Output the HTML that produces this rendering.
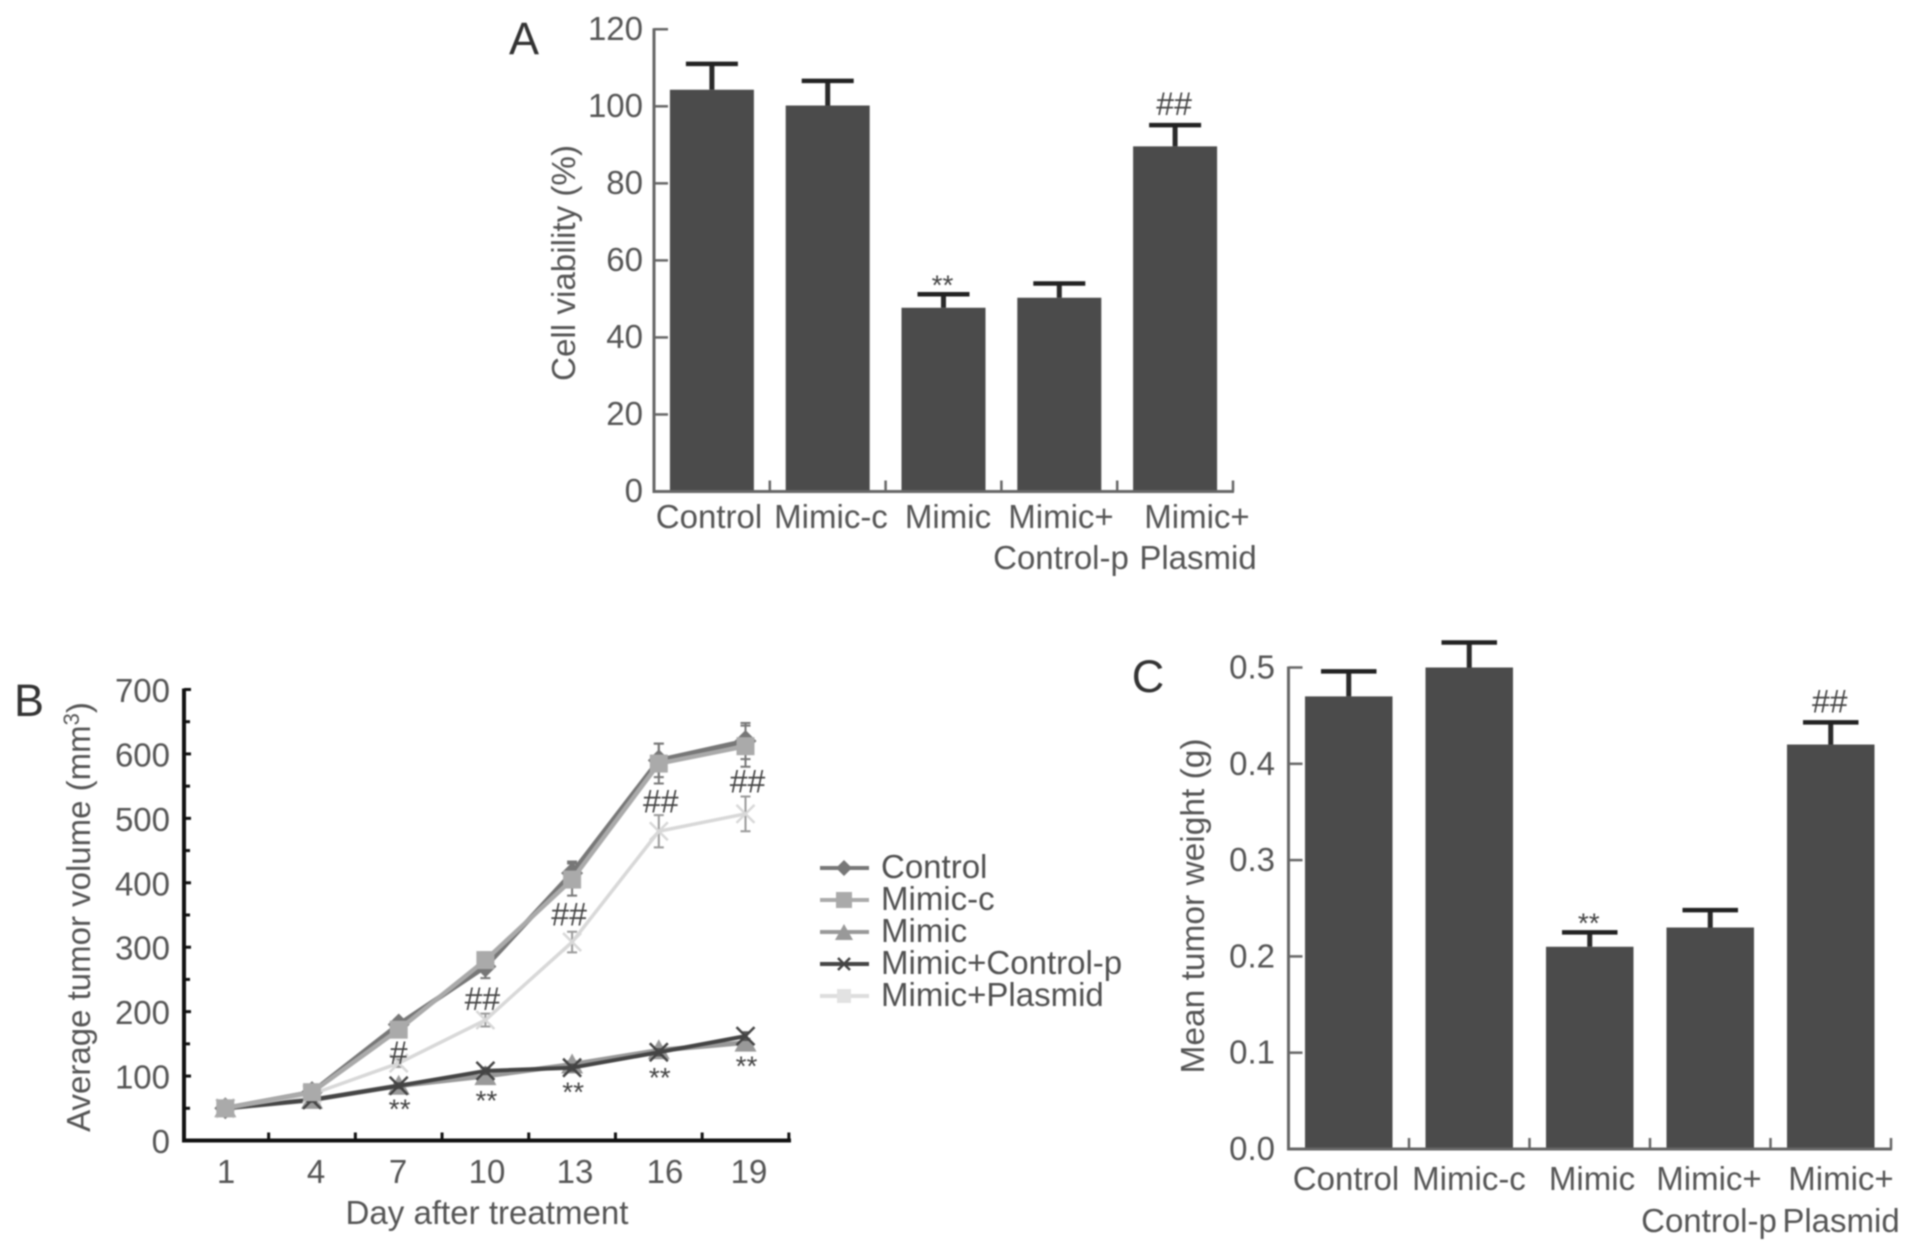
<!DOCTYPE html>
<html lang="en">
<head>
<meta charset="utf-8">
<title>Cell viability and tumor growth charts</title>
<style>
html,body{margin:0;padding:0;background:#fff;}
svg{display:block;filter:blur(0.8px);}
text{font-family:"Liberation Sans",sans-serif;fill:#555;}
.lbl{font-size:33px;text-anchor:middle;}
.leg{font-size:33px;fill:#505050;}
.ttl{font-size:33px;text-anchor:middle;}
.pl{font-size:45px;fill:#333;text-anchor:middle;}
</style>
</head>
<body>
<svg id="fig" xmlns="http://www.w3.org/2000/svg" width="1913" height="1250" viewBox="0 0 1913 1250">
  <rect width="1913" height="1250" fill="#fff"/>
  <g id="panelA">
    <text class="pl" x="524" y="54">A</text>
    <text class="ttl" transform="translate(575,263) rotate(-90)" textLength="236" lengthAdjust="spacingAndGlyphs">Cell viability (%)</text>
    <g>
      <text class="lbl" x="709" y="528">Control</text>
      <text class="lbl" x="831" y="528">Mimic-c</text>
      <text class="lbl" x="948" y="528">Mimic</text>
      <text class="lbl" x="1061" y="528">Mimic+</text>
      <text class="lbl" x="1061" y="569">Control-p</text>
      <text class="lbl" x="1197" y="528">Mimic+</text>
      <text class="lbl" x="1198" y="569">Plasmid</text>
    </g>
  </g>
  <g id="panelB">
    <text class="pl" x="29" y="716">B</text>
    <text class="ttl" transform="translate(90,917) rotate(-90)">Average tumor volume (mm<tspan font-size="22" dy="-11">3</tspan><tspan dy="11">)</tspan></text>
    <text class="ttl" x="487" y="1224" textLength="283" lengthAdjust="spacingAndGlyphs">Day after treatment</text>
    <g>
      <text class="lbl" x="226" y="1183">1</text>
      <text class="lbl" x="316" y="1183">4</text>
      <text class="lbl" x="398" y="1183">7</text>
      <text class="lbl" x="487" y="1183">10</text>
      <text class="lbl" x="575" y="1183">13</text>
      <text class="lbl" x="665" y="1183">16</text>
      <text class="lbl" x="749" y="1183">19</text>
    </g>
  </g>
  <g>
    <g>
      <line x1="820" x2="869" y1="868" y2="868" stroke="#777" stroke-width="4"/>
      <polygon points="844,860 852,868 844,876 836,868" fill="#777"/>
      <text class="leg" x="881" y="878">Control</text>
    </g>
    <g>
      <line x1="820" x2="869" y1="900" y2="900" stroke="#aaa" stroke-width="4"/>
      <rect x="836" y="892" width="16" height="16" fill="#aaa"/>
      <text class="leg" x="881" y="910">Mimic-c</text>
    </g>
    <g>
      <line x1="820" x2="869" y1="932" y2="932" stroke="#999" stroke-width="4"/>
      <polygon points="844,924 853,940 835,940" fill="#999"/>
      <text class="leg" x="881" y="942">Mimic</text>
    </g>
    <g>
      <line x1="820" x2="869" y1="964" y2="964" stroke="#444" stroke-width="4"/>
      <path d="M838,958 L850,970 M850,958 L838,970" stroke="#444" stroke-width="2.5"/>
      <text class="leg" x="881" y="974">Mimic+Control-p</text>
    </g>
    <g>
      <line x1="820" x2="869" y1="996" y2="996" stroke="#ddd" stroke-width="4"/>
      <rect x="837" y="989" width="14" height="14" fill="#e2e2e2"/>
      <text class="leg" x="881" y="1006">Mimic+Plasmid</text>
    </g>
  </g>
  <g id="panelC">
    <text class="pl" x="1148" y="692">C</text>
    <text class="ttl" transform="translate(1204,906) rotate(-90)" textLength="335" lengthAdjust="spacingAndGlyphs">Mean tumor weight (g)</text>
    <g>
      <text class="lbl" x="1346" y="1190">Control</text>
      <text class="lbl" x="1469" y="1190">Mimic-c</text>
      <text class="lbl" x="1592" y="1190">Mimic</text>
      <text class="lbl" x="1709" y="1190">Mimic+</text>
      <text class="lbl" x="1709" y="1232">Control-p</text>
      <text class="lbl" x="1841" y="1190">Mimic+</text>
      <text class="lbl" x="1841" y="1232">Plasmid</text>
    </g>
  </g>
</svg>
<script>
// ---------- Panel A data ----------
var barCategories = ["control", "mimic-c", "mimic", "mimic-control-p", "mimic-plasmid"];
var viabilityValues = [104.3, 100.2, 47.7, 50.3, 89.6];
var viabilityUpper = [111, 106.6, 51.2, 54, 95.1];
var viabilityMarks = ["", "", "**", "", "##"];
var viabilityTicks = [0, 20, 40, 60, 80, 100, 120];
var viabilityTickLabels = ["0", "20", "40", "60", "80", "100", "120"];

// ---------- Panel B data ----------
var days = [1, 4, 7, 10, 13, 16, 19];
var seriesOrder = ["control", "mimic", "mimic-control-p", "mimic-plasmid", "mimic-c"];
var controlValues = [50, 75, 180, 270, 415, 590, 620];
var controlErrors = [2, 5, 8, 18, 18, 26, 28];
var mimicCValues = [50, 75, 172, 280, 405, 585, 612];
var mimicCErrors = [2, 5, 8, 12, 25, 31, 32];
var mimicValues = [50, 63, 85, 100, 118, 140, 152];
var mimicErrors = [2, 3, 4, 5, 5, 5, 6];
var mimicControlPValues = [50, 63, 85, 108, 113, 137, 162];
var mimicControlPErrors = [2, 3, 4, 5, 5, 5, 6];
var mimicPlasmidValues = [50, 72, 120, 187, 308, 480, 507];
var mimicPlasmidErrors = [2, 4, 6, 10, 16, 25, 27];
var volumeTicks = [0, 100, 200, 300, 400, 500, 600, 700];
var volumeTickLabels = ["0", "100", "200", "300", "400", "500", "600", "700"];
var hashLabels = ["", "", "#", "##", "##", "##", "##"];
var hashHeights = [0, 0, 136, 220, 351, 526, 557];
var starLabels = ["", "", "**", "**", "**", "**", "**"];
var starHeights = [0, 0, 59, 72, 85, 108, 126];

// ---------- Panel C data ----------
var weightValues = [0.47, 0.50, 0.21, 0.23, 0.42];
var weightUpper = [0.496, 0.526, 0.225, 0.248, 0.443];
var weightMarks = ["", "", "**", "", "##"];
var weightTicks = [0, 0.1, 0.2, 0.3, 0.4, 0.5];
var weightTickLabels = ["0.0", "0.1", "0.2", "0.3", "0.4", "0.5"];

var NS = "http://www.w3.org/2000/svg";
function mk(parent, tag, attrs, text) {
  var el = document.createElementNS(NS, tag);
  for (var k in attrs) { el.setAttribute(k, attrs[k]); }
  if (text !== undefined) { el.textContent = text; }
  parent.appendChild(el);
  return el;
}
function annotation(parent, label, cx, cy) {
  var isStar = label.charAt(0) === "*";
  var size = isStar ? 28 : 32;
  var el = mk(parent, "text", {x: cx, y: cy + (isStar ? 16 : 11), "text-anchor": "middle", style: "font-size:" + size + "px;fill:#444"}, label);
  
  
  return el;
}

function drawBarPanel(p) {
  var root = document.getElementById(p.id);
  var y = function (v) { return p.y0 - (v - p.vMin) * p.yPerUnit; };
  var x = function (i) { return p.x0 + (i + 0.5) * p.band; };
  var right = p.x0 + p.band * p.values.length;

  p.values.forEach(function (v, i) {
    var bar = mk(root, "rect", {x: x(i) - p.barW / 2, y: y(v), width: p.barW, height: p.y0 - y(v), fill: "#4b4b4b"});
    
    

    var stem = mk(root, "line", {x1: x(i), x2: x(i), y1: y(v), y2: y(p.upper[i]), stroke: "#2a2a2a", "stroke-width": 5});
    
    

    var cap = mk(root, "line", {x1: x(i) - p.capW / 2, x2: x(i) + p.capW / 2, y1: y(p.upper[i]), y2: y(p.upper[i]), stroke: "#222", "stroke-width": 4.5});
    
    

    if (p.marks[i]) {
      annotation(root, p.marks[i], x(i) - 1, y(p.upper[i]) - (p.marks[i] === "**" ? 16 : 21));
    }
  });

  var axisY = mk(root, "line", {x1: p.x0, x2: p.x0, y1: y(p.ticks[p.ticks.length - 1]) - 1, y2: p.y0 + 1.5, stroke: "#666", "stroke-width": 3});
  
  

  var axisX = mk(root, "line", {x1: p.x0, x2: right + 1, y1: p.y0, y2: p.y0, stroke: "#666", "stroke-width": 3});
  
  

  p.ticks.forEach(function (t, i) {
    var tick = mk(root, "line", {x1: p.x0, x2: p.x0 + 14, y1: y(t), y2: y(t), stroke: "#666", "stroke-width": 2.5});
    
    

    var label = mk(root, "text", {x: p.labelX, y: y(t) + p.labelDy, "text-anchor": "end", style: "font-size:33px"}, p.tickLabels[i]);
    
    
  });

  for (var n = 1; n <= p.values.length; n++) {
    var xt = mk(root, "line", {x1: p.x0 + n * p.band, x2: p.x0 + n * p.band, y1: p.y0, y2: p.y0 - 11, stroke: "#666", "stroke-width": 2.5});
    
    
  }
}

drawBarPanel({
  id: "panelA", x0: 654, y0: 491.5, band: 115.8, barW: 84, capW: 52, yPerUnit: 3.852, vMin: 0,
  values: viabilityValues, upper: viabilityUpper, marks: viabilityMarks,
  ticks: viabilityTicks, tickLabels: viabilityTickLabels, labelX: 643, labelDy: 10.5
});
drawBarPanel({
  id: "panelC", x0: 1288.5, y0: 1149, band: 120.5, barW: 87.5, capW: 55.5, yPerUnit: 963, vMin: 0,
  values: weightValues, upper: weightUpper, marks: weightMarks,
  ticks: weightTicks, tickLabels: weightTickLabels, labelX: 1275, labelDy: 11
});

// ---------- Panel B chart ----------
(function () {
  var root = document.getElementById("panelB");
  var x0 = 184, y0 = 1140.5, xEnd = 790;
  var yB = function (v) { return y0 - v * 0.6443; };
  var xB = function (i) { return 225.3 + i * 86.7; };

  var styles = {
    "control": {values: controlValues, errors: controlErrors, color: "#777", width: 5, marker: "diamond", err: "#777"},
    "mimic-c": {values: mimicCValues, errors: mimicCErrors, color: "#aaa", width: 4.5, marker: "square", err: "#777"},
    "mimic": {values: mimicValues, errors: mimicErrors, color: "#999", width: 5, marker: "triangle", err: "#888"},
    "mimic-control-p": {values: mimicControlPValues, errors: mimicControlPErrors, color: "#444", width: 4, marker: "cross", err: "#555"},
    "mimic-plasmid": {values: mimicPlasmidValues, errors: mimicPlasmidErrors, color: "#d8d8d8", width: 3.5, marker: "cross", err: "#999"}
  };

  seriesOrder.forEach(function (name) {
    var s = styles[name];
    s.values.forEach(function (v, i) {
      var eb = mk(root, "path", {
        d: "M" + (xB(i) - 5) + "," + yB(v + s.errors[i]) + "h10M" + xB(i) + "," + yB(v + s.errors[i]) + "V" + yB(v - s.errors[i]) + "M" + (xB(i) - 5) + "," + yB(v - s.errors[i]) + "h10",
        fill: "none", stroke: s.err, "stroke-width": 2
      });
      
      
    });

    var pts = s.values.map(function (v, i) { return xB(i) + "," + yB(v); }).join(" ");
    var line = mk(root, "polyline", {points: pts, fill: "none", stroke: s.color, "stroke-width": s.width, "stroke-linejoin": "round"});
    
    

    s.values.forEach(function (v, i) {
      var cx = xB(i), cy = yB(v), m;
      if (s.marker === "diamond") {
        m = mk(root, "polygon", {points: cx + "," + (cy - 11) + " " + (cx + 11) + "," + cy + " " + cx + "," + (cy + 11) + " " + (cx - 11) + "," + cy, fill: s.color});
      } else if (s.marker === "square") {
        m = mk(root, "rect", {x: cx - 9, y: cy - 9, width: 18, height: 18, fill: s.color});
      } else if (s.marker === "triangle") {
        m = mk(root, "polygon", {points: cx + "," + (cy - 11) + " " + (cx + 11) + "," + (cy + 9) + " " + (cx - 11) + "," + (cy + 9), fill: s.color});
      } else {
        m = mk(root, "path", {d: "M" + (cx - 9) + "," + (cy - 9) + "L" + (cx + 9) + "," + (cy + 9) + "M" + (cx + 9) + "," + (cy - 9) + "L" + (cx - 9) + "," + (cy + 9), fill: "none", stroke: s.color, "stroke-width": 2.5});
      }
      
      
    });
  });

  days.forEach(function (d, i) {
    if (hashLabels[i]) { annotation(root, hashLabels[i], xB(i) + (i === 2 ? 0 : (i <= 4 ? -3 : 2)), yB(hashHeights[i])); }
    if (starLabels[i]) { annotation(root, starLabels[i], xB(i) + 1, yB(starHeights[i])); }
  });

  var axisY = mk(root, "line", {x1: x0, x2: x0, y1: yB(700) - 1, y2: y0 + 2, stroke: "#111", "stroke-width": 4});
  
  

  var axisX = mk(root, "line", {x1: x0, x2: xEnd + 1, y1: y0, y2: y0, stroke: "#111", "stroke-width": 4});
  
  

  volumeTicks.forEach(function (t, i) {
    var tick = mk(root, "line", {x1: x0, x2: x0 + 7, y1: yB(t), y2: yB(t), stroke: "#111", "stroke-width": 3});
    
    

    var label = mk(root, "text", {x: 170, y: yB(t) + 12.5, "text-anchor": "end", style: "font-size:33px"}, volumeTickLabels[i]);
    
    

    if (i < volumeTicks.length - 1) {
      var minor = mk(root, "line", {x1: x0, x2: x0 + 6, y1: yB((t + volumeTicks[i + 1]) / 2), y2: yB((t + volumeTicks[i + 1]) / 2), stroke: "#111", "stroke-width": 3});
      
      
    }
  });

  days.forEach(function (d, i) {
    var tx = xB(i) + 43.35;
    var xt = mk(root, "line", {x1: tx, x2: tx, y1: y0, y2: y0 - 8, stroke: "#111", "stroke-width": 3});
    
    
  });
})();
</script>
</body>
</html>
